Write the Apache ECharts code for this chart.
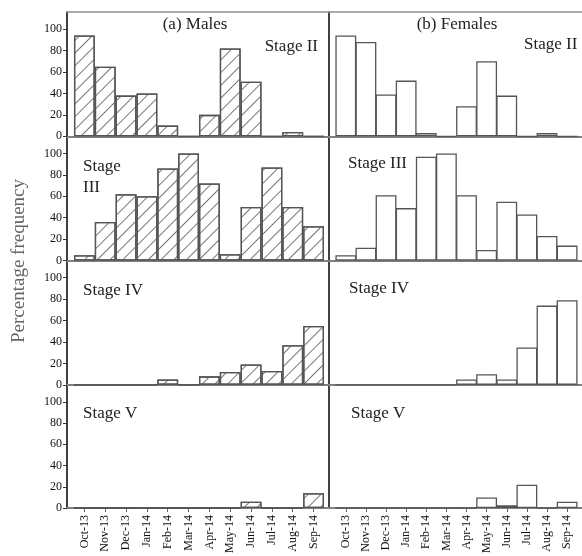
<!DOCTYPE html>
<html><head><meta charset="utf-8">
<script src="https://cdn.jsdelivr.net/npm/echarts@6/dist/echarts.min.js"></script>
<style>html,body{margin:0;padding:0;background:#fff}#c{width:582px;height:556px}</style>
</head><body><div id="c"></div>
<script>
const months = ['Oct-13','Nov-13','Dec-13','Jan-14','Feb-14','Mar-14','Apr-14','May-14','Jun-14','Jul-14','Aug-14','Sep-14'];
const yTicks = [0,20,40,60,80,100];
const maleII    = [94,65,38,40,10,0,20,82,51,0,4,0];
const femaleII  = [94,88,39,52,3,0,28,70,38,0,3,0];
const maleIII   = [5,36,62,60,86,100,72,6,50,87,50,32];
const femaleIII = [5,12,61,49,97,100,61,10,55,43,23,14];
const maleIV    = [0,0,0,0,5,0,8,12,19,13,37,55];
const femaleIV  = [0,0,0,0,0,0,5,10,5,35,74,79];
const maleV     = [0,0,0,0,0,0,0,0,6,0,0,14];
const femaleV   = [0,0,0,0,0,0,0,10,2.5,22,0,6];

const FONT = '"Liberation Serif","DejaVu Serif",serif';
const chart = echarts.init(document.getElementById('c'), null, {renderer:'canvas'});
const rows = [[maleII,femaleII],[maleIII,femaleIII],[maleIV,femaleIV],[maleV,femaleV]];
const colLeft = [67,329], colW = 262, top0 = 12, rowH = 124.3;
const xMin = -0.835, xMax = 11.74;
const idx = months.map((m,i)=>i);
const grids = [], xAxes = [], yAxes = [], series = [];
rows.forEach((pair,r)=>{
  pair.forEach((vals,c)=>{
    const gi = grids.length;
    const bottom = r === 3;
    grids.push({left: colLeft[c], top: top0 + r*rowH, width: colW, height: rowH});
    xAxes.push({type:'value', gridIndex: gi, min: xMin, max: xMax, splitLine:{show:false},
      axisLine:{show:true, onZero:false, lineStyle:{color:'#808080', width:1.8}},
      axisTick:{show:bottom, customValues: idx, length:4, lineStyle:{color:'#666', width:1}},
      axisLabel:{show:bottom, customValues: idx, formatter: v => months[Math.round(v)] || '', rotate:90,
        fontFamily: FONT, fontSize: 12, color:'#111', margin: 7}
    });
    yAxes.push({type:'value', gridIndex: gi, min:0, max:116, splitLine:{show:false},
      axisLine:{show:true, onZero:false, lineStyle:{color:'#000', width:1.5}},
      axisTick:{show: c===0, customValues: yTicks, length:4, lineStyle:{color:'#333'}},
      axisLabel:{show: c===0, customValues: yTicks, fontFamily: FONT, fontSize: 12, color:'#111', margin: 5}
    });
    const itemStyle = {color:'#fff', borderColor:'#555', borderWidth:1.3};
    if (c === 0) {
      itemStyle.decal = {symbol:'rect', symbolSize:1, color:'#777', dashArrayX:[1,0], dashArrayY:[0.9,7.5], rotation:-Math.PI/4};
    }
    series.push({type:'bar', xAxisIndex: gi, yAxisIndex: gi, data: vals.map((v,i)=>[i,v]),
      barWidth: colW/(xMax-xMin), itemStyle, silent:true, animation:false});
  });
});
// top border of first row
[0,1].forEach(gi=>{
  xAxes.push({type:'value', gridIndex: gi, position:'top', min:xMin, max:xMax, splitLine:{show:false},
    axisLine:{show:true, onZero:false, lineStyle:{color:'#909090', width:1.5}}, axisTick:{show:false}, axisLabel:{show:false}});
});
function txt(text, x, y, align, size, color, extra){
  return Object.assign({type:'text', x, y, silent:true, style:{text, fill: color||'#222',
    font: (size||17)+'px '+FONT, textAlign: align, align: align, textVerticalAlign:'middle', verticalAlign:'middle', lineHeight:21}}, extra||{});
}
const graphics = [
  txt('(a) Males', 195, 25, 'center', 17),
  txt('(b) Females', 457, 25, 'center', 17),
  txt('Stage II', 318, 47, 'right', 17),
  txt('Stage II', 524, 45, 'left', 17),
  txt('Stage\nIII', 83, 177, 'left', 17),
  txt('Stage III', 348, 164, 'left', 17),
  txt('Stage IV', 83, 291, 'left', 17),
  txt('Stage IV', 349, 289, 'left', 17),
  txt('Stage V', 83, 414, 'left', 17),
  txt('Stage V', 351, 414, 'left', 17),
  txt('Percentage frequency', 19, 261, 'center', 19, '#666', {rotation: Math.PI/2})
];
chart.setOption({animation:false, grid: grids, xAxis: xAxes, yAxis: yAxes, series, graphic: graphics});
</script></body></html>
